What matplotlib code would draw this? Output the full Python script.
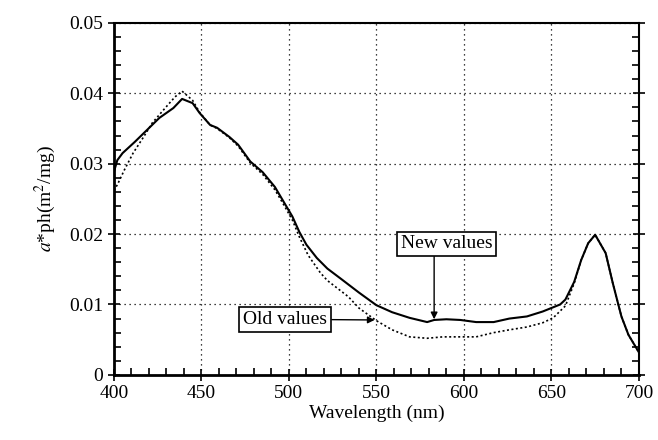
import matplotlib
matplotlib.use("Agg")
import matplotlib.pyplot as plt
from matplotlib.ticker import MultipleLocator

plt.rcParams['font.family'] = ['Liberation Serif', 'DejaVu Serif']
plt.rcParams['mathtext.fontset'] = 'stix'

# new values (solid)
wl_new = [400, 402, 405, 412, 419, 426, 434, 439, 445, 449, 455, 459, 466, 471, 478,
          485, 492, 497, 502, 506, 510, 516, 522, 530, 540, 550, 559, 569, 579, 583,
          590, 598, 607, 617, 626, 636, 645, 650, 655, 658, 663, 667, 671, 675, 681,
          685, 690, 694, 700]
a_new = [0.0288, 0.0305, 0.0315, 0.0331, 0.0348, 0.0365, 0.0379, 0.0392, 0.0386,
         0.0372, 0.0355, 0.0351, 0.0338, 0.0327, 0.0303, 0.0288, 0.0267, 0.0246,
         0.0225, 0.0203, 0.0185, 0.0166, 0.0151, 0.0136, 0.0117, 0.0099, 0.0089,
         0.0081, 0.0075, 0.0078, 0.0079, 0.0078, 0.0075, 0.0075, 0.0080, 0.0083,
         0.0090, 0.0095, 0.0100, 0.0107, 0.0132, 0.0163, 0.0187, 0.0199, 0.0173,
         0.0131, 0.0083, 0.0057, 0.0032]

# old values (dotted)
wl_old = [400, 402, 406, 411, 417, 422, 430, 435, 439, 445, 449, 455, 459, 466, 471,
          478, 485, 492, 497, 502, 506, 511, 518, 522, 534, 540, 545, 550, 559, 569,
          579, 588, 598, 607, 617, 626, 636, 645, 651, 658, 663, 667, 671, 675, 681,
          685, 690, 694, 700]
a_old = [0.0262, 0.0270, 0.0291, 0.0315, 0.0338, 0.0358, 0.0381, 0.0395, 0.0403,
         0.0390, 0.0373, 0.0355, 0.0350, 0.0337, 0.0325, 0.0301, 0.0285, 0.0263,
         0.0242, 0.0220, 0.0196, 0.0170, 0.0145, 0.0134, 0.0111, 0.0095, 0.0086,
         0.0077, 0.0064, 0.0054, 0.0052, 0.0054, 0.0054, 0.0054, 0.0060, 0.0064,
         0.0068, 0.0074, 0.0081, 0.0098, 0.0130, 0.0163, 0.0187, 0.0199, 0.0173,
         0.0131, 0.0083, 0.0057, 0.0032]

fig = plt.figure(figsize=(6.58, 4.40), dpi=100)
ax = fig.add_axes([0.173, 0.148, 0.798, 0.80])

ax.plot(wl_old, a_old, color='black', linestyle=(0, (1.2, 1.5)), linewidth=1.2)
ax.plot(wl_new, a_new, color='black', linestyle='-', linewidth=1.5)

ax.set_xlim(400, 700)
ax.set_ylim(0, 0.05)
ax.xaxis.set_major_locator(MultipleLocator(50))
ax.xaxis.set_minor_locator(MultipleLocator(10))
ax.set_yticks([0, 0.01, 0.02, 0.03, 0.04, 0.05])
ax.set_yticklabels(['0', '0.01', '0.02', '0.03', '0.04', '0.05'])
ax.yaxis.set_minor_locator(MultipleLocator(0.002))

ax.grid(True, which='major', color='black', linestyle=(0, (1, 3)), linewidth=0.9)
ax.tick_params(which='major', direction='inout', length=8, width=1.2, labelsize=14,
               right=True, top=False)
ax.tick_params(which='minor', direction='in', length=5, width=1.2, right=True, top=False)

for side in ['left', 'bottom']:
    ax.spines[side].set_linewidth(2)
for side in ['right', 'top']:
    ax.spines[side].set_linewidth(1.5)

ax.set_xlabel('Wavelength (nm)', fontsize=14, labelpad=2)
ax.set_ylabel(r'$a$*ph(m$^2$/mg)', fontsize=14, labelpad=8)

box = dict(boxstyle='square,pad=0.2', facecolor='white', edgecolor='black', linewidth=1.2)
arrow = dict(arrowstyle='-|>', color='black', lw=1, mutation_scale=10, shrinkA=0, shrinkB=0)

ax.text(590, 0.0186, 'New values', fontsize=14, ha='center', va='center', bbox=box)
ax.annotate('', xy=(583, 0.0079), xytext=(583, 0.0168), arrowprops=arrow)
ax.annotate('Old values', xy=(549, 0.0078), xytext=(498, 0.0079), fontsize=14,
            ha='center', va='center', bbox=box, arrowprops=arrow)

fig.savefig('out.png', dpi=100)
